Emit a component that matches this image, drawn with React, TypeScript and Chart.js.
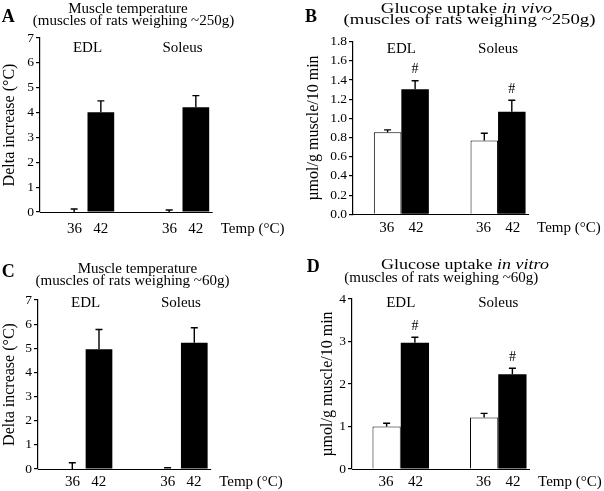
import React, { useEffect, useRef } from 'react';
import { Chart, registerables } from 'chart.js';

Chart.register(...registerables);

const SERIF = '"Liberation Serif", "Times New Roman", serif';

// ---------------- data ----------------
const muscles = ['EDL', 'Soleus'];
const tempLabels = ['36', '42'];
const tempAxisLabel = 'Temp (°C)';

const tempTitle = 'Muscle temperature';
const vivoTitle = ['Glucose uptake ', 'in vivo'];
const vitroTitle = ['Glucose uptake ', 'in vitro'];
const adultSubtitle = '(muscles of rats weighing ~250g)';
const youngSubtitle = '(muscles of rats weighing ~60g)';
const tempYTitle = 'Delta increase (°C)';
const uptakeYTitle = 'µmol/g muscle/10 min';

// A: muscle temperature, ~250 g rats
const aMean36 = [0, 0];
const aSem36 = [0.12, 0.08];
const aMean42 = [4.01, 4.21];
const aSem42 = [0.46, 0.47];

// B: glucose uptake in vivo, ~250 g rats
const bMean36 = [0.855, 0.77];
const bSem36 = [0.025, 0.075];
const bMean42 = [1.305, 1.07];
const bSem42 = [0.087, 0.12];
const bMark42 = ['#', '#'];

// C: muscle temperature, ~60 g rats
const cMean36 = [0, 0.03];
const cSem36 = [0.26, 0.02];
const cMean42 = [4.96, 5.23];
const cSem42 = [0.82, 0.62];

// D: glucose uptake in vitro, ~60 g rats
const dMean36 = [1.0, 1.21];
const dSem36 = [0.075, 0.1];
const dMean42 = [2.97, 2.23];
const dSem42 = [0.13, 0.14];
const dMark42 = ['#', '#'];

const tempYMax = 7;
const tempYStep = 1;
const vivoYMax = 1.8;
const vivoYStep = 0.2;
const vitroYMax = 4;
const vitroYStep = 1;

// ---------------- layout / style ----------------
type Part = { text: string; italic?: boolean };
type Line = { parts: Part[]; cx: number; y: number; sx: number };
type PanelCfg = {
  letter: string; letterX: number; letterY: number;
  left: number; top: number; w: number; h: number;
  area: { left: number; top: number; right: number; bottom: number };
  lines: Line[];
  yTitle: string; yTitlePad: number;
  yMax: number; yStep: number; decimals: number;
  mean36: number[]; sem36: number[]; mean42: number[]; sem42: number[];
  marks?: string[];
  catPct: number; xGap: string; xPad: number; groupLabelY: number;
};

const panels: PanelCfg[] = [
  {
    letter: 'A', letterX: 1.7, letterY: 21.7,
    left: 0, top: 0, w: 300, h: 245,
    area: { left: 40, top: 38, right: 230, bottom: 212 },
    lines: [
      { parts: [{ text: tempTitle }], cx: 128, y: 13, sx: 1 },
      { parts: [{ text: adultSubtitle }], cx: 133.5, y: 24.5, sx: 1 },
    ],
    yTitle: tempYTitle, yTitlePad: 0,
    yMax: tempYMax, yStep: tempYStep, decimals: 0,
    mean36: aMean36, sem36: aSem36, mean42: aMean42, sem42: aSem42,
    catPct: 0.562, xGap: '   ', xPad: 7.7, groupLabelY: 48.5,
  },
  {
    letter: 'B', letterX: 5, letterY: 21.7,
    left: 300, top: 0, w: 304, h: 245,
    area: { left: 53, top: 41.7, right: 246.4, bottom: 214.3 },
    lines: [
      { parts: [{ text: vivoTitle[0] }, { text: vivoTitle[1], italic: true }], cx: 166.5, y: 13.3, sx: 1.25 },
      { parts: [{ text: adultSubtitle }], cx: 169.5, y: 24, sx: 1.25 },
    ],
    yTitle: uptakeYTitle, yTitlePad: 3.7,
    yMax: vivoYMax, yStep: vivoYStep, decimals: 1,
    mean36: bMean36, sem36: bSem36, mean42: bMean42, sem42: bSem42, marks: bMark42,
    catPct: 0.569, xGap: '   \u2009', xPad: 4.7, groupLabelY: 48.7,
  },
  {
    letter: 'C', letterX: 1.7, letterY: 31.7,
    left: 0, top: 245, w: 300, h: 246,
    area: { left: 38, top: 55, right: 228.6, bottom: 224 },
    lines: [
      { parts: [{ text: tempTitle }], cx: 137.5, y: 28.3, sx: 1 },
      { parts: [{ text: youngSubtitle }], cx: 132.5, y: 40, sx: 1 },
    ],
    yTitle: tempYTitle, yTitlePad: 0,
    yMax: tempYMax, yStep: tempYStep, decimals: 0,
    mean36: cMean36, sem36: cSem36, mean42: cMean42, sem42: cSem42,
    catPct: 0.56, xGap: '   ', xPad: 3.7, groupLabelY: 58,
  },
  {
    letter: 'D', letterX: 6.7, letterY: 26.7,
    left: 300, top: 245, w: 304, h: 246,
    area: { left: 52, top: 54, right: 247, bottom: 224 },
    lines: [
      { parts: [{ text: vitroTitle[0] }, { text: vitroTitle[1], italic: true }], cx: 165, y: 24.3, sx: 1.2 },
      { parts: [{ text: youngSubtitle }], cx: 141.3, y: 37.3, sx: 1 },
    ],
    yTitle: uptakeYTitle, yTitlePad: 18,
    yMax: vitroYMax, yStep: vitroYStep, decimals: 0,
    mean36: dMean36, sem36: dSem36, mean42: dMean42, sem42: dSem42, marks: dMark42,
    catPct: 0.58, xGap: '   \u2009', xPad: 3.7, groupLabelY: 58,
  },
];

function drawLine(ctx: CanvasRenderingContext2D, line: Line, size: number) {
  const fonts = line.parts.map((p) => `${p.italic ? 'italic ' : ''}${size}px ${SERIF}`);
  const widths = line.parts.map((p, i) => {
    ctx.font = fonts[i];
    return ctx.measureText(p.text).width;
  });
  const total = widths.reduce((a, b) => a + b, 0);
  ctx.save();
  ctx.translate(line.cx, line.y);
  ctx.scale(line.sx, 1);
  ctx.textAlign = 'left';
  ctx.textBaseline = 'alphabetic';
  let xx = -total / 2;
  line.parts.forEach((p, i) => {
    ctx.font = fonts[i];
    ctx.fillText(p.text, xx, 0);
    xx += widths[i];
  });
  ctx.restore();
}

const overlay = {
  id: 'overlay',
  afterDatasetsDraw(chart: any, _args: any, opts: any) {
    const cfg: PanelCfg = opts.cfg;
    const ctx: CanvasRenderingContext2D = chart.ctx;
    const yScale = chart.scales.y;
    ctx.save();
    ctx.strokeStyle = '#000';
    ctx.fillStyle = '#000';
    ctx.lineWidth = 1.4;
    const series = [
      { m: cfg.mean36, s: cfg.sem36, marks: undefined as string[] | undefined },
      { m: cfg.mean42, s: cfg.sem42, marks: cfg.marks },
    ];
    series.forEach((ser, di) => {
      const meta = chart.getDatasetMeta(di);
      meta.data.forEach((el: any, j: number) => {
        const x = el.x;
        const yTop = yScale.getPixelForValue(ser.m[j]);
        const yErr = yScale.getPixelForValue(ser.m[j] + ser.s[j]);
        ctx.beginPath();
        ctx.moveTo(x, yTop);
        ctx.lineTo(x, yErr);
        ctx.moveTo(x - 3.5, yErr);
        ctx.lineTo(x + 3.5, yErr);
        ctx.stroke();
        if (ser.marks && ser.marks[j]) {
          ctx.font = `14px ${SERIF}`;
          ctx.textAlign = 'center';
          ctx.textBaseline = 'middle';
          ctx.fillText(ser.marks[j], x, yErr - 11);
        }
      });
    });
    ctx.restore();
  },
  afterDraw(chart: any, _args: any, opts: any) {
    const cfg: PanelCfg = opts.cfg;
    const ctx: CanvasRenderingContext2D = chart.ctx;
    const area = chart.chartArea;
    const xScale = chart.scales.x;
    ctx.save();
    ctx.fillStyle = '#000';
    ctx.strokeStyle = '#000';
    // baseline (x axis) up to just past the last bar
    const lastMeta = chart.getDatasetMeta(1);
    const lastEl: any = lastMeta.data[lastMeta.data.length - 1];
    const lastRight = lastEl.x + lastEl.width / 2;
    const by = Math.round(area.bottom) + 0.5;
    ctx.lineWidth = 1.2;
    ctx.beginPath();
    ctx.moveTo(area.left, by);
    ctx.lineTo(lastRight + 3.5, by);
    ctx.stroke();
    // temp axis label
    ctx.font = `15px ${SERIF}`;
    ctx.textAlign = 'left';
    ctx.textBaseline = 'middle';
    ctx.fillText(tempAxisLabel, lastRight + 11.5, area.bottom + cfg.xPad + 9);
    // group labels
    ctx.textAlign = 'center';
    muscles.forEach((m, i) => {
      ctx.fillText(m, xScale.getPixelForValue(i), cfg.groupLabelY);
    });
    // panel letter
    ctx.font = `bold 18px ${SERIF}`;
    ctx.textAlign = 'left';
    ctx.textBaseline = 'alphabetic';
    ctx.fillText(cfg.letter, cfg.letterX, cfg.letterY);
    // titles
    cfg.lines.forEach((ln) => drawLine(ctx, ln, 15));
    ctx.restore();
  },
};

function Panel({ cfg }: { cfg: PanelCfg }) {
  const ref = useRef<HTMLCanvasElement | null>(null);
  useEffect(() => {
    const canvas = ref.current;
    if (!canvas) return;
    const chart = new Chart(canvas, {
      type: 'bar',
      data: {
        labels: muscles,
        datasets: [
          {
            label: tempLabels[0],
            data: cfg.mean36,
            backgroundColor: '#ffffff',
            borderColor: '#000000',
            borderWidth: 1,
            categoryPercentage: cfg.catPct,
            barPercentage: 1,
          },
          {
            label: tempLabels[1],
            data: cfg.mean42,
            backgroundColor: '#000000',
            borderColor: '#000000',
            borderWidth: 0,
            categoryPercentage: cfg.catPct,
            barPercentage: 1,
          },
        ],
      },
      options: {
        responsive: false,
        animation: false,
        devicePixelRatio: 1,
        layout: {
          padding: { left: 0, top: cfg.area.top, right: cfg.w - cfg.area.right, bottom: 0 },
        },
        plugins: {
          legend: { display: false },
          tooltip: { enabled: false },
          title: { display: false },
          overlay: { cfg },
        } as any,
        scales: {
          x: {
            type: 'category',
            grid: { display: false, drawTicks: false, tickLength: 0 },
            border: { display: false },
            ticks: {
              font: { family: SERIF, size: 15 },
              color: '#000',
              padding: cfg.xPad,
              maxRotation: 0,
              autoSkip: false,
              callback: () => tempLabels.join(cfg.xGap),
            },
            afterFit: (s: any) => {
              s.height = cfg.h - cfg.area.bottom;
            },
          },
          y: {
            min: 0,
            max: cfg.yMax,
            ticks: {
              stepSize: cfg.yStep,
              autoSkip: false,
              font: { family: SERIF, size: 13.5 },
              color: '#000',
              padding: 2,
              callback: (v: any) => Number(v).toFixed(cfg.decimals),
            },
            grid: { drawOnChartArea: false, tickLength: 4, color: '#000', lineWidth: 1.2 },
            border: { display: true, color: '#000', width: 1.2 },
            title: {
              display: true,
              text: cfg.yTitle,
              font: { family: SERIF, size: 16 },
              color: '#000',
              padding: { top: cfg.yTitlePad, bottom: 0 },
            },
            afterFit: (s: any) => {
              s.width = cfg.area.left;
            },
          },
        } as any,
      },
      plugins: [overlay as any],
    });
    return () => chart.destroy();
  }, [cfg]);
  return (
    <canvas
      ref={ref}
      width={cfg.w}
      height={cfg.h}
      style={{ position: 'absolute', left: cfg.left, top: cfg.top, width: cfg.w, height: cfg.h }}
    />
  );
}

export default function App() {
  return (
    <div style={{ position: 'absolute', left: 0, top: 0, width: 604, height: 491, background: '#fff' }}>
      {panels.map((p) => (
        <Panel key={p.letter} cfg={p} />
      ))}
    </div>
  );
}
